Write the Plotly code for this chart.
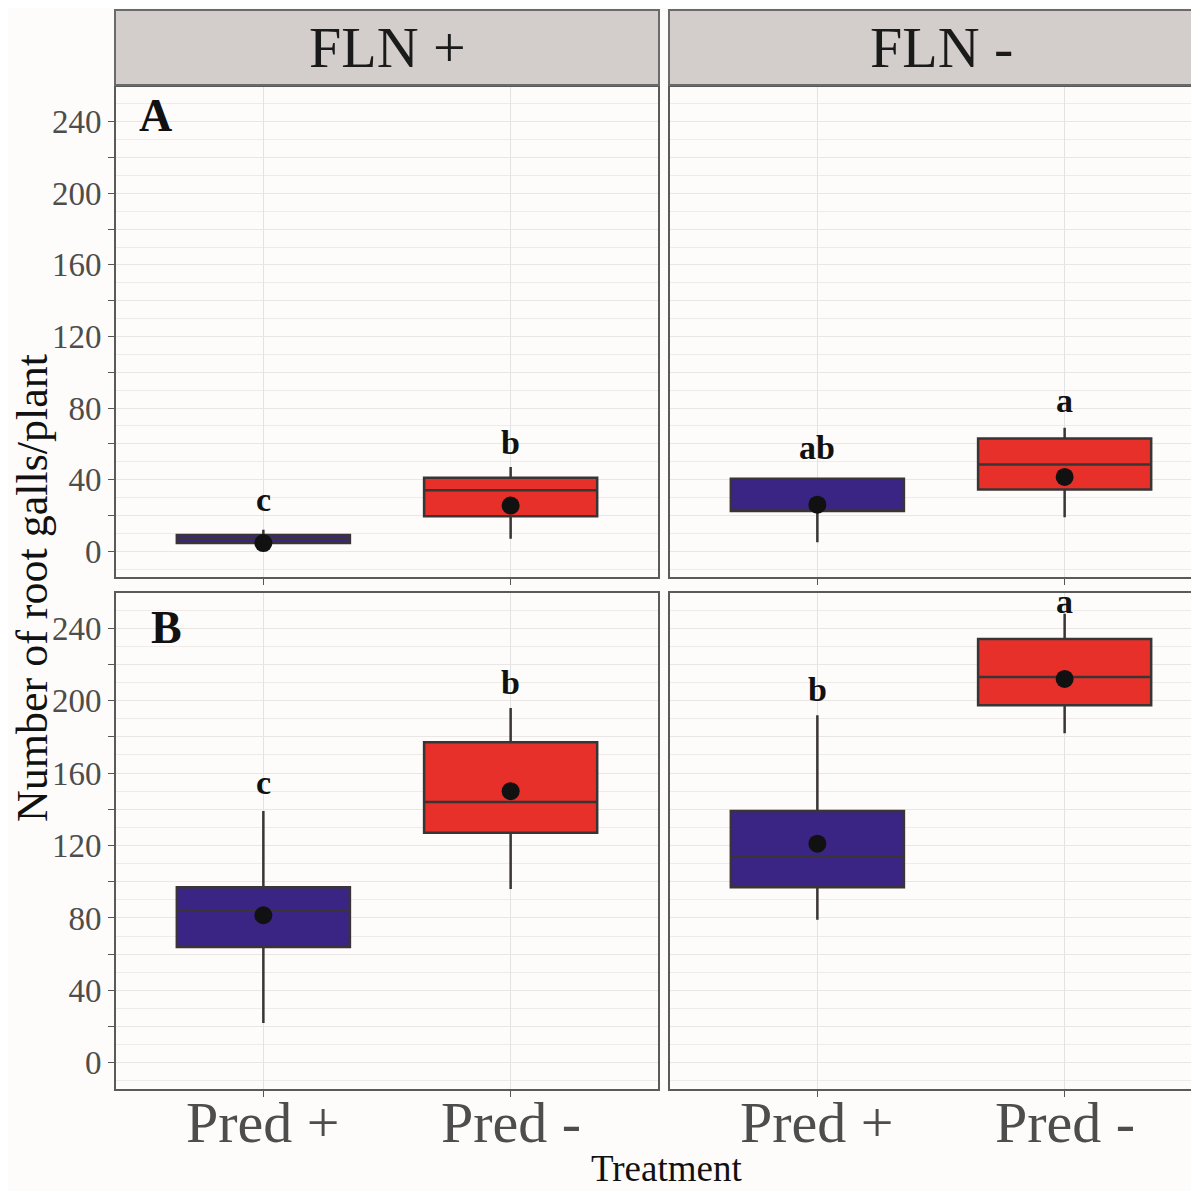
import plotly.graph_objects as go

# ---- data ----
facets = ["FLN +", "FLN -"]
rows = ["A", "B"]
treatments = ["Pred +", "Pred -"]

# order: (row A: FLN+ Pred+, FLN+ Pred-, FLN- Pred+, FLN- Pred-), then row B same order
q1 = [4.5, 19.5, 22.5, 34.5, 64, 127, 97, 197.5]
median = [7, 34, 23, 48.5, 84, 144, 114, 213]
q3 = [9, 41, 40.5, 63, 97, 177, 139, 234]
lower = [4, 7, 5, 19, 22, 96, 79, 182]
upper = [12, 47, 41, 69, 139, 196, 192, 248]
means = [4.5, 25.5, 26, 41.5, 81.5, 150, 121, 212]
letters = ["c", "b", "ab", "a", "c", "b", "b", "a"]
letter_y = [29, 61, 58, 84, 155, 210, 206, 255]

yticks = [0, 40, 80, 120, 160, 200, 240]

colors = {"Pred +": "#3a2584", "Pred -": "#e8302a"}
FONT = "Liberation Serif"

# the page body has an 8px margin; figure occupies the rest of the window
OFF = 8
W, H = 1199 - OFF, 1191 - OFF


def px(x):
    return (x - OFF) / W


def py(y):
    return 1 - (y - OFF) / H


# pixel layout of panels (window coordinates)
px_cols = [(115, 659), (669, 1199)]
px_rows = [(86, 578), (592, 1090)]
unit_px = (659 - 115) / 2.2
xranges = [[0.4, 2.6], [0.4, 0.4 + (1199 - 669) / unit_px]]

fig = go.Figure()
layout = dict(width=W, height=H, margin=dict(l=0, r=0, t=0, b=0, autoexpand=False),
              paper_bgcolor="#fdfcfa", plot_bgcolor="#fdfcfa", showlegend=False,
              font=dict(family=FONT, color="#4d4d4d"))
annotations = []
shapes = []

idx = 0
for r in range(2):
    for c in range(2):
        n = r * 2 + c + 1
        xa = "x" if n == 1 else f"x{n}"
        ya = "y" if n == 1 else f"y{n}"
        xkey = "xaxis" if n == 1 else f"xaxis{n}"
        ykey = "yaxis" if n == 1 else f"yaxis{n}"
        x0, x1 = px_cols[c]
        y0, y1 = px_rows[r]
        layout[xkey] = dict(domain=[px(x0), min(px(x1), 1.0)], range=xranges[c], anchor=ya,
                            tickvals=[1, 2], showticklabels=False,
                            ticks="outside", ticklen=6,
                            tickcolor="#555", showgrid=True, gridcolor="#e2e2e2",
                            gridwidth=1, zeroline=False, showline=False, automargin=False)
        layout[ykey] = dict(domain=[py(y1), py(y0)], range=[-15, 260], anchor=xa,
                            tickvals=list(range(0, 241, 20)),
                            ticktext=[str(v) if v in yticks else "" for v in range(0, 241, 20)],
                            showticklabels=(c == 0), ticks="outside" if c == 0 else "",
                            ticklen=6, tickcolor="#555", automargin=False,
                            showgrid=True, gridcolor="#e9e6e4", gridwidth=1,
                            minor=dict(dtick=10, showgrid=True, gridcolor="#eeebe9", gridwidth=1),
                            zeroline=False, showline=False,
                            tickfont=dict(size=33, color="#4d4d4d", family=FONT))
        for t_i, t in enumerate(treatments):
            xpos = t_i + 1
            fig.add_trace(go.Box(x=[xpos], q1=[q1[idx]], median=[median[idx]], q3=[q3[idx]],
                                 lowerfence=[lower[idx]], upperfence=[upper[idx]],
                                 width=0.7, whiskerwidth=0, fillcolor=colors[t],
                                 line=dict(color="#3a3434", width=2.5), boxpoints=False,
                                 xaxis=xa, yaxis=ya, hoverinfo="skip"))
            fig.add_trace(go.Scatter(x=[xpos], y=[means[idx]], mode="markers",
                                     marker=dict(size=18, color="#111"),
                                     xaxis=xa, yaxis=ya, hoverinfo="skip"))
            annotations.append(dict(x=xpos, y=letter_y[idx], xref=xa, yref=ya,
                                    xanchor="center", yanchor="middle",
                                    text=f"<b>{letters[idx]}</b>", showarrow=False,
                                    font=dict(size=34, color="#111", family=FONT)))
            if r == 1:
                annotations.append(dict(x=xpos, y=py(1122), xref=xa, yref="paper",
                                        xanchor="center", yanchor="middle",
                                        text=t, showarrow=False,
                                        font=dict(size=58, color="#4d4d4d", family=FONT)))
            idx += 1
        # panel border
        shapes.append(dict(type="rect", xref=f"{xa} domain", yref=f"{ya} domain",
                           x0=0, x1=1 if c == 0 else 1.05, y0=0, y1=1,
                           line=dict(color="#5a5a5a", width=2), layer="above"))
        if c == 0:
            lx, ly = (155, 116) if r == 0 else (166, 627)
            annotations.append(dict(x=px(lx), y=py(ly), xref="paper", yref="paper",
                                    xanchor="center", yanchor="middle",
                                    text=f"<b>{rows[r]}</b>", showarrow=False,
                                    font=dict(size=46, color="#111", family=FONT)))

# strip headers
for c in range(2):
    x0, x1 = px_cols[c]
    shapes.append(dict(type="rect", xref="paper", yref="paper",
                       x0=px(x0), x1=px(x1 + (20 if c == 1 else 0)),
                       y0=py(85), y1=py(10),
                       fillcolor="#d3cecc", line=dict(color="#6a6a6a", width=2), layer="above"))
    annotations.append(dict(x=px((x0 + (x1 if c == 0 else 1213)) / 2), y=py(48),
                            xref="paper", yref="paper", xanchor="center", yanchor="middle",
                            text=facets[c], showarrow=False,
                            font=dict(size=58, color="#1a1a1a", family=FONT)))

# axis titles
annotations.append(dict(x=px(666), y=py(1191), xref="paper", yref="paper",
                        xanchor="center", yanchor="bottom",
                        text="Treatment", showarrow=False,
                        font=dict(size=37, color="#111", family=FONT)))
annotations.append(dict(x=px(32), y=py(588), xref="paper", yref="paper",
                        xanchor="center", yanchor="middle",
                        text="Number of root galls/plant", showarrow=False, textangle=-90,
                        font=dict(size=44, color="#111", family=FONT)))

layout["annotations"] = annotations
layout["shapes"] = shapes
fig.update_layout(**layout)
fig.write_html("out.html")
